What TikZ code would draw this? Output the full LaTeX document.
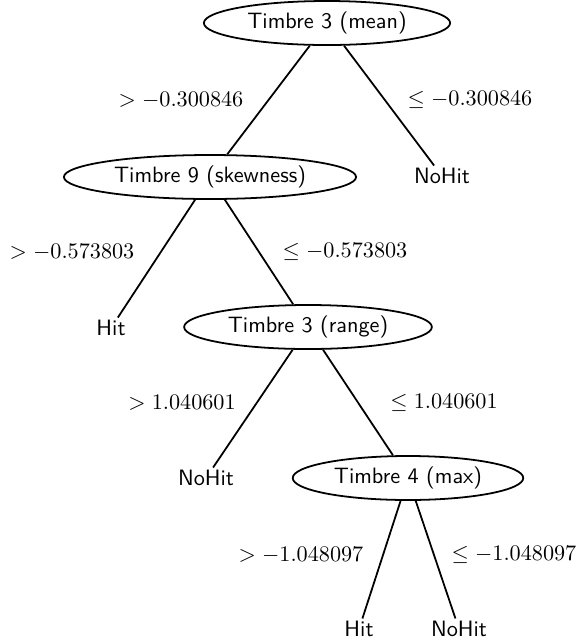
\documentclass[tikz,border=0pt]{standalone}
\usepackage{amsmath}
\usepackage{amssymb}
\usetikzlibrary{positioning,calc,shapes.geometric}

\begin{document}
\begin{tikzpicture}[x=0.45pt,y=-0.45pt,
		split/.style={draw=black,thick,ellipse,inner ysep=2pt,font=\sffamily},
		leaf/.style={inner sep=1pt,font=\sffamily},
		cond/.style={inner sep=0pt}]
		\useasboundingbox (0,0) rectangle (577,644);
		\node[split] (mean) at (327,23) {Timbre 3 (mean)};
		\node[split] (skew) at (210,177) {Timbre 9 (skewness)};
		\node[leaf] (nohitA) at (442,176) {NoHit};
		\node[leaf] (hitA) at (111,328) {Hit};
		\node[split] (range) at (308,327) {Timbre 3 (range)};
		\node[leaf] (nohitB) at (206,478) {NoHit};
		\node[split] (max) at (408,478) {Timbre 4 (max)};
		\node[leaf] (hitB) at (359,629) {Hit};
		\node[leaf] (nohitC) at (459,629) {NoHit};
		
		\node[cond] (meanL) at (181,100) {$>-0.300846$};
		\node[cond] (meanR) at (470,100) {$\leq-0.300846$};
		\node[cond] (skewL) at (72,252) {$>-0.573803$};
		\node[cond] (skewR) at (345,252) {$\leq-0.573803$};
		\node[cond] (rangeL) at (182,403) {$>1.040601$};
		\node[cond] (rangeR) at (444,403) {$\leq1.040601$};
		\node[cond] (maxL) at (301,555) {$>-1.048097$};
		\node[cond] (maxR) at (514,555) {$\leq-1.048097$};
		
		\draw[thick] (mean)--(skew);
		\draw[thick] (mean)--(nohitA);
		\draw[thick] (skew)--(hitA);
		\draw[thick] (skew)--(range);
		\draw[thick] (range)--(nohitB);
		\draw[thick] (range)--(max);
		\draw[thick] (max)--(hitB);
		\draw[thick] (max)--(nohitC);
	\end{tikzpicture}
\end{document}
